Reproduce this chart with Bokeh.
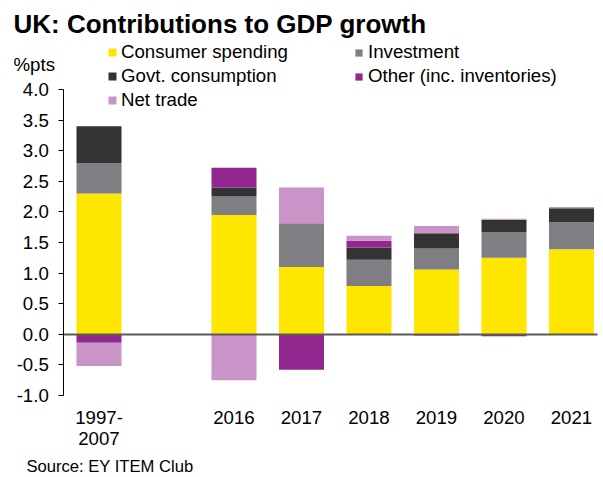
from bokeh.plotting import figure
from bokeh.models import Label, Legend, LegendItem, FixedTicker, NumeralTickFormatter, Range1d, LinearAxis
from bokeh.embed import file_html
from bokeh.resources import INLINE

categories = ["1997-\n2007", "", "2016", "2017", "2018", "2019", "2020", "2021"]
consumer = [2.30, 0.0, 1.95, 1.10, 0.79, 1.06, 1.25, 1.39]
investment = [0.50, 0.0, 0.30, 0.70, 0.43, 0.34, 0.42, 0.44]
govt = [0.60, 0.0, 0.15, 0.01, 0.20, 0.25, 0.20, 0.23]
other = [-0.14, 0.0, 0.32, -0.58, 0.11, -0.02, -0.03, -0.01]
net_trade = [-0.38, 0.0, -0.75, 0.59, 0.08, 0.12, 0.02, 0.02]
y_ticks = [-1.0, -0.5, 0.0, 0.5, 1.0, 1.5, 2.0, 2.5, 3.0, 3.5, 4.0]

series = [
    ("Consumer spending", consumer, "#FFE600"),
    ("Investment", investment, "#7F7E82"),
    ("Govt. consumption", govt, "#333333"),
    ("Other (inc. inventories)", other, "#91278F"),
    ("Net trade", net_trade, "#C994C7"),
]

FONT = "Liberation Sans"
W, H = 603, 477
PX_X = 67.5      # pixels per category
PX_Y = 61.2      # pixels per 1.0 %pt
X0_PAGE = 98.5   # pixel of first category centre
YM1_PAGE = 395.0 # pixel of y = -1.0


def dx(page_x):
    return (page_x - X0_PAGE) / PX_X


def dy(page_y):
    return -1.0 + (YM1_PAGE - page_y) / PX_Y


p = figure(width=W, height=H, output_backend="svg", toolbar_location=None,
           x_range=Range1d(dx(0), dx(W)), y_range=Range1d(dy(H), dy(0)),
           x_axis_location=None, y_axis_location=None,
           min_border=0, min_border_left=0, min_border_right=0,
           min_border_top=0, min_border_bottom=0)
p.outline_line_color = None
p.background_fill_color = "white"
p.border_fill_color = "white"
p.grid.visible = False

xs = list(range(len(categories)))
pos = [0.0] * len(xs)
neg = [0.0] * len(xs)
renderers = {}
for name, vals, color in series:
    bottoms, tops = [], []
    for i, v in enumerate(vals):
        if v >= 0:
            b = pos[i]; t = b + v; pos[i] = t
        else:
            b = neg[i]; t = b + v; neg[i] = t
        bottoms.append(b); tops.append(t)
    r = p.vbar(x=xs, bottom=bottoms, top=tops, width=0.667, fill_color=color, line_color=None)
    renderers[name] = r

# category axis (labels only) at y = -1
xa = LinearAxis(fixed_location=-1.0)
xa.ticker = FixedTicker(ticks=[i for i, c in enumerate(categories) if c])
xa.major_label_overrides = {i: c for i, c in enumerate(categories) if c}
xa.axis_line_color = None
xa.major_tick_line_color = None
xa.minor_tick_line_color = None
xa.major_label_standoff = 5
xa.major_label_text_font = FONT
xa.major_label_text_font_size = "18.67px"
xa.major_label_text_color = "black"
xa.major_label_text_line_height = 1.0
p.add_layout(xa, "below")

# zero line as an axis baseline
za = LinearAxis(fixed_location=0.0, bounds=(dx(63.3), dx(597)))
za.ticker = FixedTicker(ticks=[])
za.axis_line_color = "#5a5a5a"
za.axis_line_width = 2
za.major_tick_line_color = None
za.minor_tick_line_color = None
p.add_layout(za, "below")

# value axis
ya = LinearAxis(fixed_location=dx(63.3), bounds=(-1.0, 4.0))
ya.ticker = FixedTicker(ticks=y_ticks)
ya.formatter = NumeralTickFormatter(format="0.0")
ya.axis_line_color = "black"
ya.major_tick_line_color = "black"
ya.major_tick_in = 0
ya.major_tick_out = 5
ya.minor_tick_line_color = None
ya.major_label_standoff = 10
ya.major_label_text_font = FONT
ya.major_label_text_font_size = "18.67px"
ya.major_label_text_color = "black"
p.add_layout(ya, "left")

p.add_layout(Label(x=dx(13), y=dy(23.5), text="UK: Contributions to GDP growth", text_font=FONT,
                   text_font_size="26px", text_font_style="bold", text_baseline="middle",
                   text_color="black"))
p.add_layout(Label(x=dx(13), y=dy(63.5), text="%pts", text_font=FONT, text_font_size="18.67px",
                   text_baseline="middle", text_color="black"))
p.add_layout(Label(x=dx(26), y=dy(466), text="Source: EY ITEM Club", text_font=FONT,
                   text_font_size="16.6px", text_baseline="middle", text_color="black"))


def make_legend(names, loc, size):
    lg = Legend(items=[LegendItem(label=n, renderers=[renderers[n]]) for n in names],
                location=loc, orientation="vertical")
    lg.glyph_width = size
    lg.glyph_height = size
    lg.label_standoff = 14 - size
    lg.label_text_font = FONT
    lg.label_text_font_size = "18.67px"
    lg.label_text_color = "black"
    lg.label_height = 20
    lg.spacing = 2
    lg.padding = 0
    lg.margin = 0
    lg.border_line_color = None
    lg.background_fill_alpha = 0
    return lg


p.add_layout(make_legend(["Consumer spending", "Govt. consumption", "Net trade"], (107, 366), 10), "center")
p.add_layout(make_legend(["Investment", "Other (inc. inventories)"], (354, 390), 9), "center")

open("out.html", "w").write(file_html(p, INLINE))
